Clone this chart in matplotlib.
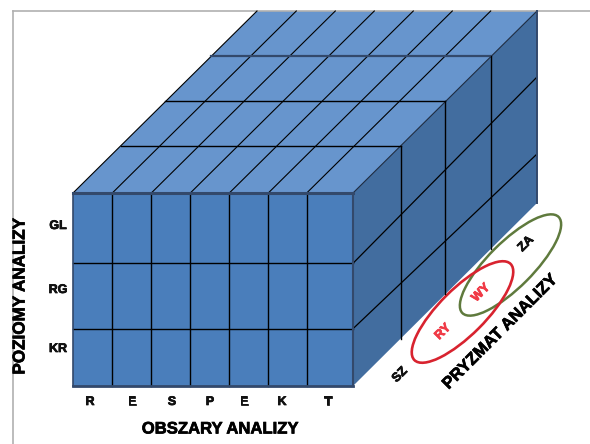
import matplotlib
matplotlib.use('Agg')
import matplotlib.pyplot as plt
import matplotlib.patheffects as pe
from matplotlib.patches import Polygon, Ellipse

plt.rcParams['font.family'] = ['Liberation Sans', 'DejaVu Sans']

# Cube geometry (pixels)
column_x = [73, 112.3, 151.3, 190.3, 229.3, 268.3, 306.7, 353]
row_y = [193, 263.3, 328.7, 386]
depth_dx = [0, 47.7, 92.3, 138, 184]
depth_dy = [0, -47, -92, -137, -182]
back_row_y = [11, 77, 154, 203]

# Labels
column_labels = ['R', 'E', 'S', 'P', 'E', 'K', 'T']
column_label_x = [90, 132, 172, 210, 244, 282, 328]
row_labels = ['GL', 'RG', 'KR']
row_label_y = [226, 290, 349]

front_color = '#4a7ebb'
top_color = '#6795cd'
side_color = '#426d9f'
dark_edge = '#33496b'
label_red = '#f03a46'
heavy = [pe.withStroke(linewidth=0.5, foreground='black')]
heavy_red = [pe.withStroke(linewidth=0.6, foreground=label_red)]

fig = plt.figure(figsize=(5.9, 4.44), dpi=100)
ax = fig.add_axes([0, 0, 1, 1])
ax.set_xlim(0, 590)
ax.set_ylim(444, 0)
ax.axis('off')

# Outer frame (left and top only are visible)
ax.plot([13, 13], [444, 11], color='#b0b0b0', lw=1.2)
ax.plot([13, 590], [11, 11], color='#b0b0b0', lw=1.2)

x0, x1 = column_x[0], column_x[-1]
y0, y1 = row_y[0], row_y[-1]
dx, dy = depth_dx[-1], depth_dy[-1]

# Faces
ax.add_patch(Polygon([(x0, y0), (x1, y0), (x1 + dx, y0 + dy), (x0 + dx, y0 + dy)], fc=top_color, ec='none'))
ax.add_patch(Polygon([(x0, y0), (x1, y0), (x1, y1), (x0, y1)], fc=front_color, ec='none'))
ax.add_patch(Polygon([(x1, y0), (x1 + dx, back_row_y[0]), (x1 + dx, back_row_y[-1]), (x1, y1)], fc=side_color, ec='none'))

# Top face: lines running back from each column
for x in column_x[:-1]:
    ax.plot([x, x + dx], [y0, y0 + dy], color='black', lw=0.8)
ax.plot([x1, x1 + dx], [y0, y0 + dy], color='#1c2a40', lw=0.8)

# Top face: lines across, and verticals on the side face
for i in range(1, 4):
    lw = 1.6 if i == 3 else 1
    col = dark_edge if i == 3 else 'black'
    ax.plot([x0 + depth_dx[i], x1 + depth_dx[i]], [y0 + depth_dy[i], y0 + depth_dy[i]], color=col, lw=lw)
    bottom = y1 + (back_row_y[-1] - y1) * depth_dx[i] / dx
    ax.plot([x1 + depth_dx[i], x1 + depth_dx[i]], [y0 + depth_dy[i], bottom], color='black', lw=1)

# Side face: row lines
for y_front, y_back in zip(row_y[1:-1], back_row_y[1:-1]):
    ax.plot([x1, x1 + dx], [y_front, y_back], color='black', lw=0.9)

# Front face grid
for x in column_x[1:-1]:
    ax.plot([x, x], [y0, y1], color='black', lw=1)
for y in row_y[1:-1]:
    ax.plot([x0, x1], [y, y], color='black', lw=1)

# Dark outline of the front and side faces
ax.plot([x0, x0], [y0, y1], color=dark_edge, lw=1.2)
ax.plot([x0, x1], [y0, y0], color=dark_edge, lw=2.2)
ax.plot([x0, x1], [y1, y1], color=dark_edge, lw=2)
ax.plot([x1, x1], [y0, y1], color=dark_edge, lw=1.5)
ax.plot([x1 + dx, x1 + dx], [back_row_y[0], back_row_y[-1]], color=dark_edge, lw=1.4)

# Prism ellipses
ax.add_patch(Ellipse((510.5, 265), 136, 45, angle=-45, fc='none', ec='#5f7a3d', lw=1.8))
ax.add_patch(Ellipse((462.5, 312), 136, 46, angle=-45, fc='none', ec='#d8232f', lw=1.9))

# Text
for label, x in zip(column_labels, column_label_x):
    ax.text(x, 402, label, fontsize=9, fontweight='bold', ha='center', va='center', color='#111111', path_effects=heavy)
for label, y in zip(row_labels, row_label_y):
    ax.text(58, y, label, fontsize=9, fontweight='bold', ha='center', va='center', color='#111111', path_effects=heavy)

ax.text(20, 296, 'POZIOMY ANALIZY', fontsize=12.3, fontweight='bold', rotation=90, ha='center', va='center', path_effects=heavy)
ax.text(220, 429, 'OBSZARY ANALIZY', fontsize=12, fontweight='bold', ha='center', va='center', path_effects=heavy)
ax.text(500, 332, 'PRYZMAT ANALIZY', fontsize=12, fontweight='bold', rotation=45,
        rotation_mode='anchor', ha='center', va='center', path_effects=heavy)

ax.text(400, 375, 'SZ', fontsize=9, fontweight='bold', rotation=45, rotation_mode='anchor', ha='center', va='center', color='#111111', path_effects=heavy)
ax.text(443, 332, 'RY', fontsize=9, fontweight='bold', rotation=45, rotation_mode='anchor', ha='center', va='center', color=label_red, path_effects=heavy_red)
ax.text(481, 293, 'WY', fontsize=9, fontweight='bold', rotation=45, rotation_mode='anchor', ha='center', va='center', color=label_red, path_effects=heavy_red)
ax.text(526, 244, 'ZA', fontsize=9, fontweight='bold', rotation=45, rotation_mode='anchor', ha='center', va='center', color='#111111', path_effects=heavy)

fig.savefig('out.png', dpi=100)
